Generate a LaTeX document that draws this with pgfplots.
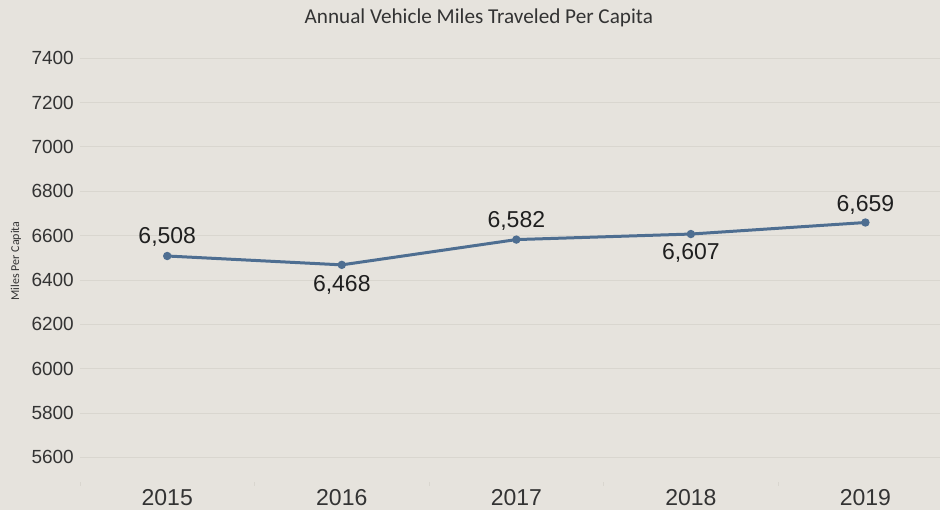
\documentclass[border=0pt]{standalone}
\usepackage{pgfplots}
\pgfplotsset{compat=1.18}
\usepackage{fontspec}
\setmainfont{Liberation Sans}
\newfontfamily\titlefont{Carlito}
\definecolor{bgc}{HTML}{E6E3DD}
\definecolor{gridc}{HTML}{D9D6CF}
\definecolor{linec}{HTML}{4E6E91}
\definecolor{txt}{HTML}{333333}

\begin{document}
\begin{tikzpicture}
\fill[bgc] (0,0) rectangle (940pt,510pt);
\node[font=\titlefont\fontsize{21.2}{24}\selectfont, text=txt] at (479pt,492pt) {Annual Vehicle Miles Traveled Per Capita};
\begin{axis}[
  at={(80pt,28pt)}, anchor=south west,
  scale only axis, width=860pt, height=442pt,
  xmin=-0.5, xmax=4.425, ymin=5490, ymax=7482,
  xtick={0,1,2,3,4},
  xticklabels={2015,2016,2017,2018,2019},
  minor xtick={-0.5,0.5,1.5,2.5,3.5},
  ytick={5600,5800,...,7400},
  tick pos=left,
  axis line style={draw=none},
  major tick length=0pt,
  minor tick length=4pt,
  tick align=outside,
  minor tick style={gridc, line width=0.6pt},
  ymajorgrids, major grid style={gridc, line width=0.8pt},
  xticklabel style={font=\fontsize{23}{26}\selectfont, text=txt, inner sep=0pt, anchor=north, yshift=-7pt},
  yticklabel style={font=\fontsize{19}{22}\selectfont, text=txt, inner sep=0pt, anchor=east, xshift=-6pt},
  yticklabel={\pgfmathprintnumber[fixed, set thousands separator={}]{\tick}},
  /pgf/number format/assume math mode=true,
  ylabel={Miles Per Capita},
  ylabel style={at={(axis description cs:0,0.5)}, anchor=center, yshift=64pt, font=\titlefont\fontsize{12}{14}\selectfont, text=txt},
  clip=false,
]
\addplot[linec, line width=3pt, mark=*, mark size=2.6pt,
  visualization depends on={\thisrow{dy}\as\dy},
  nodes near coords, point meta=explicit symbolic,
  nodes near coords style={anchor=center, yshift=\dy pt, text=black!88, font=\fontsize{23}{26}\selectfont}]
  table[x=x, y=y, meta=lab] {
x y lab dy
0 6508 6,508 19
1 6468 6,468 -20
2 6582 6,582 19
3 6607 6,607 -19
4 6659 6,659 18
};
\end{axis}
\end{tikzpicture}
\end{document}
